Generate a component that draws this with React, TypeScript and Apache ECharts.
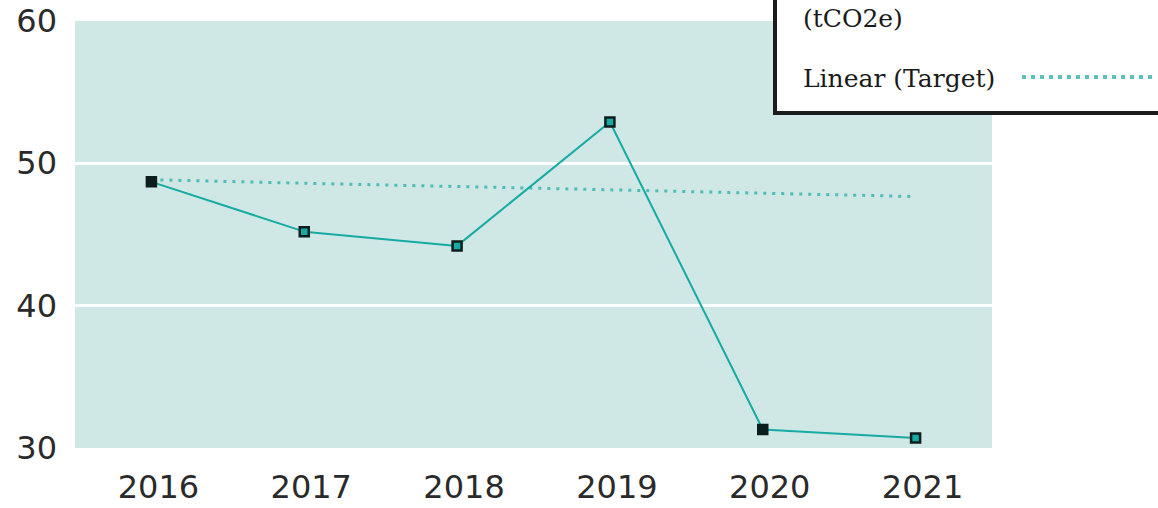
import React, { useEffect, useRef } from "react";
import * as echarts from "echarts";

const years = ["2016", "2017", "2018", "2019", "2020", "2021"];
const emissions = [48.7, 45.2, 44.2, 52.9, 31.3, 30.7];
const target = [48.85, 48.6, 48.37, 48.14, 47.9, 47.67];
const yTicks = { min: 30, max: 60, interval: 10 };
const darkMarkerYears = ["2016", "2020"];

export default function App() {
  const ref = useRef<HTMLDivElement>(null);
  useEffect(() => {
    if (!ref.current) return;
    const chart = echarts.init(ref.current, undefined, { renderer: "svg" });
    const teal = "#17aaa3";
    const option = {
      animation: false,
      grid: {
        left: 75,
        right: 166,
        top: 21,
        bottom: 60,
        show: true,
        backgroundColor: "#cfe8e6",
        borderWidth: 0,
      },
      xAxis: {
        type: "category",
        data: years,
        boundaryGap: true,
        axisLine: { show: false },
        axisTick: { show: false },
        axisLabel: {
          fontFamily: "DejaVu Sans",
          fontSize: 32,
          color: "#2a2a2a",
          margin: 23,
          padding: [0, 0, 0, 14],
        },
      },
      yAxis: {
        type: "value",
        min: yTicks.min,
        max: yTicks.max,
        interval: yTicks.interval,
        axisLine: { show: false },
        axisTick: { show: false },
        axisLabel: {
          fontFamily: "DejaVu Sans",
          fontSize: 32,
          color: "#2a2a2a",
          margin: 18,
        },
        splitLine: {
          show: true,
          lineStyle: {
            color: ["rgba(0,0,0,0)", "#ffffff", "#ffffff", "rgba(0,0,0,0)"],
            width: 3,
          },
        },
      },
      series: [
        {
          name: "Linear (Target)",
          type: "line",
          data: target,
          symbol: "none",
          lineStyle: { color: "#4fbcb5", width: 3, type: [3, 6] },
          z: 2,
        },
        {
          name: "Emissions (tCO2e)",
          type: "line",
          data: emissions.map((v, i) =>
            darkMarkerYears.includes(years[i])
              ? { value: v, itemStyle: { color: "#0b1d1c" } }
              : v
          ),
          symbol: "rect",
          symbolSize: 9,
          lineStyle: { color: teal, width: 2 },
          itemStyle: { color: teal, borderColor: "#0b1d1c", borderWidth: 2.5 },
          z: 3,
        },
      ],
      graphic: [
        {
          type: "group",
          z: 100,
          children: [
            {
              type: "rect",
              shape: { x: 775, y: -20, width: 430, height: 133 },
              style: { fill: "#ffffff", stroke: "#1c1c1c", lineWidth: 4 },
            },
            {
              type: "text",
              x: 803,
              y: 18,
              style: {
                text: "(tCO2e)",
                font: "25px 'DejaVu Serif'",
                fill: "#1a1a1a",
                verticalAlign: "middle",
              },
            },
            {
              type: "text",
              x: 803,
              y: 78,
              style: {
                text: "Linear (Target)",
                font: "25px 'DejaVu Serif'",
                fill: "#1a1a1a",
                verticalAlign: "middle",
              },
            },
            {
              type: "line",
              shape: { x1: 1022, y1: 77, x2: 1152, y2: 77 },
              style: { stroke: "#5fc0ba", lineWidth: 4, lineDash: [4, 5] },
            },
          ],
        },
      ],
    };
    chart.setOption(option);
    return () => chart.dispose();
  }, []);
  return (
    <div
      ref={ref}
      style={{ position: "fixed", left: 0, top: 0, width: 1158, height: 508, background: "#fff" }}
    />
  );
}
